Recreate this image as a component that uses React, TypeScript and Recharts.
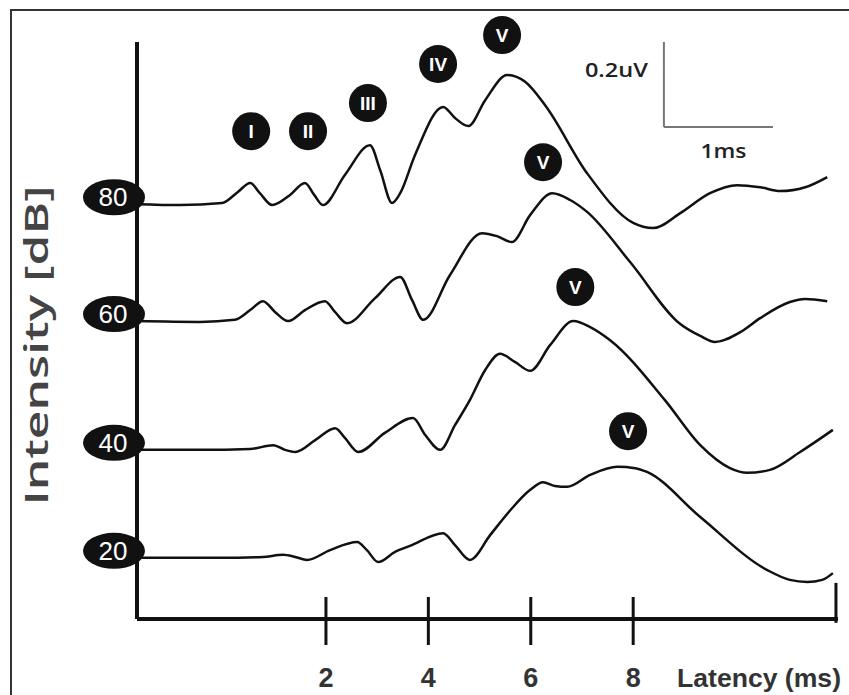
import React from "react";
import { LineChart, Line, XAxis, YAxis, ReferenceLine, ReferenceDot } from "recharts";

// latency in ms, amplitude in uV (stacked traces)
const latencyTicks = [2, 4, 6, 8];
const intensityLevels = [20, 40, 60, 80];
const baselines = [0.144, 0.398, 0.701, 0.976];

const trace80 = [
  [-1.69, 0.976], [-0.85, 0.974], [-0.03, 0.979], [0.28, 1.005], [0.52, 1.026], [0.71, 1.002],
  [0.95, 0.974], [1.3, 0.998], [1.59, 1.026], [1.77, 0.998], [1.94, 0.974], [2.37, 1.045],
  [2.86, 1.115], [3.06, 1.056], [3.29, 0.979], [3.45, 1.002], [3.74, 1.092], [4.29, 1.205],
  [4.52, 1.179], [4.78, 1.16], [5.11, 1.221], [5.54, 1.28], [5.89, 1.264], [6.28, 1.209],
  [7.1, 1.049], [8.0, 0.932], [8.39, 0.92], [8.92, 0.955], [9.5, 1.002], [10.03, 1.021],
  [10.48, 1.016], [10.87, 1.007], [11.36, 1.016], [11.79, 1.04],
];

const trace60 = [
  [-1.69, 0.701], [-0.46, 0.699], [0.22, 0.704], [0.52, 0.727], [0.77, 0.748], [1.01, 0.722],
  [1.26, 0.701], [1.59, 0.727], [1.98, 0.748], [2.18, 0.722], [2.41, 0.696], [2.96, 0.755],
  [3.45, 0.805], [3.68, 0.751], [3.9, 0.704], [4.42, 0.809], [5.05, 0.908], [5.34, 0.901],
  [5.63, 0.887], [5.99, 0.951], [6.42, 1.002], [6.77, 0.986], [7.1, 0.958], [7.94, 0.84],
  [8.92, 0.694], [9.31, 0.666], [9.6, 0.652], [10.09, 0.675], [10.48, 0.708], [11.06, 0.746],
  [11.36, 0.753], [11.79, 0.748],
];

const trace40 = [
  [-1.69, 0.398], [-0.46, 0.398], [0.52, 0.4], [0.97, 0.409], [1.2, 0.398], [1.4, 0.393],
  [1.79, 0.421], [2.18, 0.449], [2.37, 0.426], [2.63, 0.393], [3.15, 0.438], [3.7, 0.473],
  [3.94, 0.433], [4.23, 0.398], [4.52, 0.456], [4.81, 0.515], [5.11, 0.586], [5.4, 0.624],
  [5.69, 0.605], [5.99, 0.584], [6.38, 0.645], [6.83, 0.701], [7.16, 0.687], [7.55, 0.656],
  [8.62, 0.515], [9.31, 0.409], [9.89, 0.355], [10.22, 0.344], [10.67, 0.351], [11.26, 0.393],
  [11.9, 0.445],
];

const trace20 = [
  [-1.69, 0.144], [-0.07, 0.144], [0.77, 0.146], [1.16, 0.151], [1.4, 0.146], [1.63, 0.139],
  [2.08, 0.162], [2.61, 0.181], [2.8, 0.162], [3.02, 0.134], [3.35, 0.158], [3.64, 0.172],
  [4.29, 0.202], [4.52, 0.174], [4.81, 0.139], [5.21, 0.198], [5.6, 0.256], [5.99, 0.304],
  [6.24, 0.322], [6.47, 0.313], [6.71, 0.311], [7.16, 0.339], [7.69, 0.358], [8.04, 0.355],
  [8.27, 0.346], [9.31, 0.24], [10.62, 0.115], [11.06, 0.092], [11.4, 0.087], [11.69, 0.092],
  [11.9, 0.108],
];

const peakNames = ["I", "II", "III", "IV", "V", "V", "V", "V"];
const peakLatency = [0.54, 1.65, 2.82, 4.19, 5.44, 6.24, 6.87, 7.9];
const peakAmplitude = [1.148, 1.148, 1.214, 1.306, 1.374, 1.075, 0.781, 0.442];

// scale bar: 0.2uV / 1ms
const scaleBarX = [8.6, 10.73];
const scaleBarY = [1.158, 1.358];

const xDomain = [-1.69, 12.0];
const yDomain = [0, 1.419];
const yAxisTop = 1.358;
const axisEnd = 11.96;

const toPoints = (arr: number[][]) => arr.map(([t, v]) => ({ t, v }));
const traces = [trace80, trace60, trace40, trace20].map(toPoints);

const fontFamily = "'Liberation Sans', Arial, sans-serif";

function LatencyTick(props: any) {
  const { x, y, payload } = props;
  return (
    <g>
      <line x1={x} x2={x} y1={y - 22} y2={y + 26} stroke="#111" strokeWidth={3} />
      <text x={x} y={y + 68} textAnchor="middle" fontSize={27} fontWeight="bold" fill="#333" fontFamily={fontFamily}>
        {payload.value}
      </text>
    </g>
  );
}

function LevelTick(props: any) {
  const { x, y, index } = props;
  return (
    <g>
      <ellipse cx={x - 23} cy={y - 7} rx={31} ry={18} fill="#111" />
      <text x={x - 24} y={y + 2} textAnchor="middle" fontSize={26} fill="#fff" fontFamily={fontFamily}>
        {intensityLevels[index]}
      </text>
    </g>
  );
}

function IntensityTitle(props: any) {
  const { viewBox } = props;
  const cx = viewBox.x - 42;
  const cy = viewBox.y + viewBox.height / 2 + 28;
  return (
    <text
      x={cx}
      y={cy}
      transform={`rotate(-90 ${cx} ${cy})`}
      textAnchor="middle"
      dominantBaseline="central"
      fontSize={32}
      fontWeight={600}
      fill="#444"
      fontFamily="'Open Sans', sans-serif"
      textLength={320}
      lengthAdjust="spacingAndGlyphs"
    >
      Intensity [dB]
    </text>
  );
}

function LatencyTitle(props: any) {
  const { viewBox } = props;
  return (
    <text
      x={viewBox.x + viewBox.width + 3}
      y={viewBox.y + 68}
      textAnchor="end"
      fontSize={26}
      fontWeight="bold"
      fill="#333"
      fontFamily={fontFamily}
      textLength={164}
      lengthAdjust="spacingAndGlyphs"
    >
      Latency (ms)
    </text>
  );
}

export default function App() {
  return (
    <div style={{ position: "absolute", left: 0, top: 0, width: 849, height: 695, background: "#fff" }}>
      <div
        style={{
          position: "absolute",
          left: 10,
          top: 9,
          width: 839,
          height: 686,
          borderLeft: "2px solid #333",
          borderTop: "2px solid #333",
        }}
      />
      <LineChart
        width={849}
        height={695}
        margin={{ top: 16, right: 11, bottom: 0, left: 77 }}
        style={{ position: "absolute", left: 0, top: 0 }}
      >
        <XAxis
          dataKey="t"
          type="number"
          domain={xDomain}
          ticks={latencyTicks}
          interval={0}
          axisLine={{ stroke: "#111", strokeWidth: 4 }}
          tickLine={false}
          tickSize={0}
          tickMargin={0}
          tick={<LatencyTick />}
          height={76}
          label={<LatencyTitle />}
        />
        <YAxis
          type="number"
          domain={yDomain}
          ticks={baselines}
          interval={0}
          width={60}
          axisLine={false}
          tickLine={false}
          tickSize={0}
          tickMargin={0}
          tick={<LevelTick />}
          label={<IntensityTitle />}
        />
        <ReferenceLine
          segment={[{ x: xDomain[0], y: 0 }, { x: xDomain[0], y: yAxisTop }]}
          stroke="#111"
          strokeWidth={4}
          ifOverflow="visible"
        />
        <ReferenceLine
          segment={[{ x: axisEnd, y: 0.085 }, { x: axisEnd, y: -0.009 }]}
          stroke="#111"
          strokeWidth={3}
          ifOverflow="visible"
        />
        {traces.map((d, i) => (
          <Line
            key={i}
            data={d}
            dataKey="v"
            type="monotone"
            stroke="#111"
            strokeWidth={2.5}
            dot={false}
            isAnimationActive={false}
          />
        ))}
        <ReferenceLine
          segment={[{ x: scaleBarX[0], y: scaleBarY[1] }, { x: scaleBarX[0], y: scaleBarY[0] }]}
          stroke="#777"
          strokeWidth={2}
          ifOverflow="visible"
        />
        <ReferenceLine
          segment={[{ x: scaleBarX[0], y: scaleBarY[0] }, { x: scaleBarX[1], y: scaleBarY[0] }]}
          stroke="#777"
          strokeWidth={2}
          ifOverflow="visible"
        />
        <ReferenceDot
          x={scaleBarX[0]}
          y={(scaleBarY[0] + scaleBarY[1]) / 2}
          r={0}
          ifOverflow="visible"
          shape={(p: any) => (
            <text x={p.cx - 16} y={p.cy - 7} textAnchor="end" fontSize={20} fill="#222" fontFamily="'Open Sans', sans-serif" fontWeight={600} textLength={63} lengthAdjust="spacingAndGlyphs">
              0.2uV
            </text>
          )}
        />
        <ReferenceDot
          x={(scaleBarX[0] + scaleBarX[1]) / 2}
          y={scaleBarY[0]}
          r={0}
          ifOverflow="visible"
          shape={(p: any) => (
            <text x={p.cx + 5} y={p.cy + 31} textAnchor="middle" fontSize={20} fill="#222" fontFamily="'Open Sans', sans-serif" fontWeight={600} textLength={46} lengthAdjust="spacingAndGlyphs">
              1ms
            </text>
          )}
        />
        {peakNames.map((name, i) => (
          <ReferenceDot
            key={i}
            x={peakLatency[i]}
            y={peakAmplitude[i]}
            r={19}
            ifOverflow="visible"
            shape={(p: any) => (
              <g>
                <circle cx={p.cx} cy={p.cy} r={19} fill="#111" />
                <text x={p.cx} y={p.cy + 7} textAnchor="middle" fontSize={19} fontWeight="bold" fill="#fff" fontFamily={fontFamily}>
                  {name}
                </text>
              </g>
            )}
          />
        ))}
      </LineChart>
    </div>
  );
}
